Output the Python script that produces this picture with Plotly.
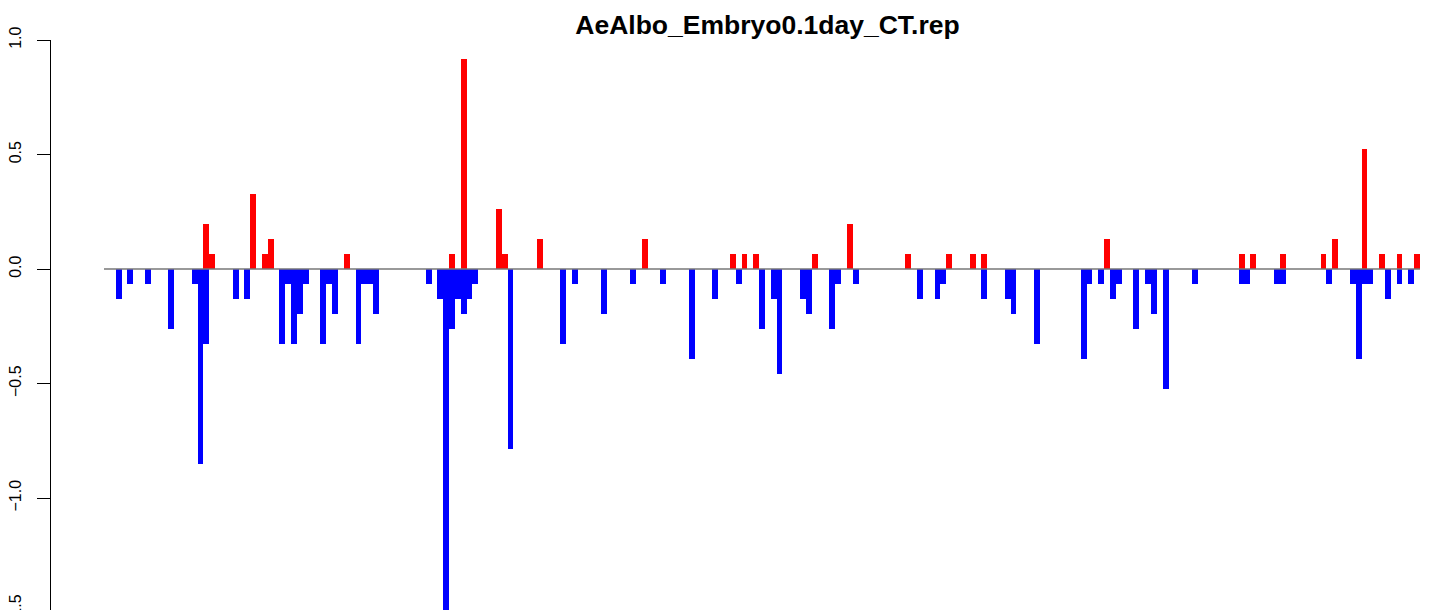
"""Bar track of up (red) and down (blue) values for AeAlbo_Embryo0.1day_CT.rep"""

import plotly.graph_objs as go

# Data: bin positions along the track and the values in those bins
n_bins = 225

up_bins = [17, 18, 25, 27, 28, 41, 59, 61, 67, 68, 74, 92, 107, 109, 111, 121, 127,
           137, 144, 148, 150, 171, 194, 196, 201, 208, 210, 215, 218, 221, 224]
up_vals = [0.197, 0.066, 0.328, 0.066, 0.131, 0.066, 0.066, 0.917, 0.262, 0.066, 0.131,
           0.131, 0.066, 0.066, 0.066, 0.066, 0.197, 0.066, 0.066, 0.066, 0.066, 0.131,
           0.066, 0.066, 0.066, 0.066, 0.131, 0.524, 0.066, 0.066, 0.066]

down_bins = [2, 4, 7, 11, 15, 16, 17, 22, 24, 30, 31, 32, 33, 34, 37, 38, 39, 43, 44, 45,
             46, 55, 57, 58, 59, 60, 61, 62, 63, 69, 78, 80, 85, 90, 95, 100, 104, 108,
             112, 114, 115, 119, 120, 124, 125, 128, 139, 142, 143, 150, 154, 155, 159,
             167, 168, 170, 172, 173, 176, 178, 179, 181, 186, 194, 195, 200, 201, 209,
             213, 214, 215, 216, 219, 221, 223]
down_vals = [-0.131, -0.066, -0.066, -0.262, -0.066, -0.852, -0.328, -0.131, -0.131,
             -0.328, -0.066, -0.328, -0.197, -0.066, -0.328, -0.066, -0.197, -0.328,
             -0.066, -0.066, -0.197, -0.066, -0.131, -1.507, -0.262, -0.131, -0.197,
             -0.131, -0.066, -0.786, -0.328, -0.066, -0.197, -0.066, -0.066, -0.393,
             -0.131, -0.066, -0.262, -0.131, -0.459, -0.131, -0.197, -0.262, -0.066,
             -0.066, -0.131, -0.131, -0.066, -0.131, -0.131, -0.197, -0.328, -0.393,
             -0.066, -0.066, -0.131, -0.066, -0.262, -0.066, -0.197, -0.524, -0.066,
             -0.066, -0.066, -0.066, -0.066, -0.066, -0.066, -0.393, -0.066, -0.066,
             -0.131, -0.066, -0.066]

y_ticks = [-1.5, -1.0, -0.5, 0.0, 0.5, 1.0]

FONT = 'Liberation Sans, Arial, Helvetica, sans-serif'

# axis ranges; the page body adds an 8px margin, so the figure runs past the
# window on the right and bottom (the original picture is cut off there too)
x_range = [-9.56, 227.4]
y_range = [-1.5235, 1.0005]

fig = go.Figure()

fig.add_trace(go.Bar(x=up_bins, y=up_vals, width=1,
                     marker=dict(color='#ff0000', line=dict(width=0))))
fig.add_trace(go.Bar(x=down_bins, y=down_vals, width=1,
                     marker=dict(color='#0000ff', line=dict(width=0))))

# grey baseline across the bins only
fig.add_shape(type='line', xref='x', yref='y', x0=-0.5, x1=n_bins - 0.5, y0=0, y1=0,
              line=dict(color='#777777', width=1.5), layer='above')

fig.update_layout(
    width=1429, height=610,
    margin=dict(l=43, r=0, t=32, b=0),
    paper_bgcolor='white', plot_bgcolor='white',
    barmode='overlay', bargap=0, showlegend=False,
    title=dict(text='<b>AeAlbo_Embryo0.1day_CT.rep</b>', x=759.5 / 1429, xanchor='center',
               y=1 - 16.7 / 610, yanchor='middle', yref='container',
               font=dict(family=FONT, size=26.5, color='black')),
    xaxis=dict(range=x_range, showgrid=False, zeroline=False, showline=False,
               showticklabels=False, ticks='', automargin=False),
    yaxis=dict(range=y_range, tickvals=y_ticks, tickformat='.1f', tickangle=-90,
               showgrid=False, zeroline=False, showline=True, linecolor='black',
               linewidth=1, ticks='outside', ticklen=13, tickwidth=1, tickcolor='black',
               ticklabelstandoff=10, ticklabeloverflow='allow', automargin=False,
               tickfont=dict(family=FONT, size=16, color='black')),
)

fig.write_html("out.html")
